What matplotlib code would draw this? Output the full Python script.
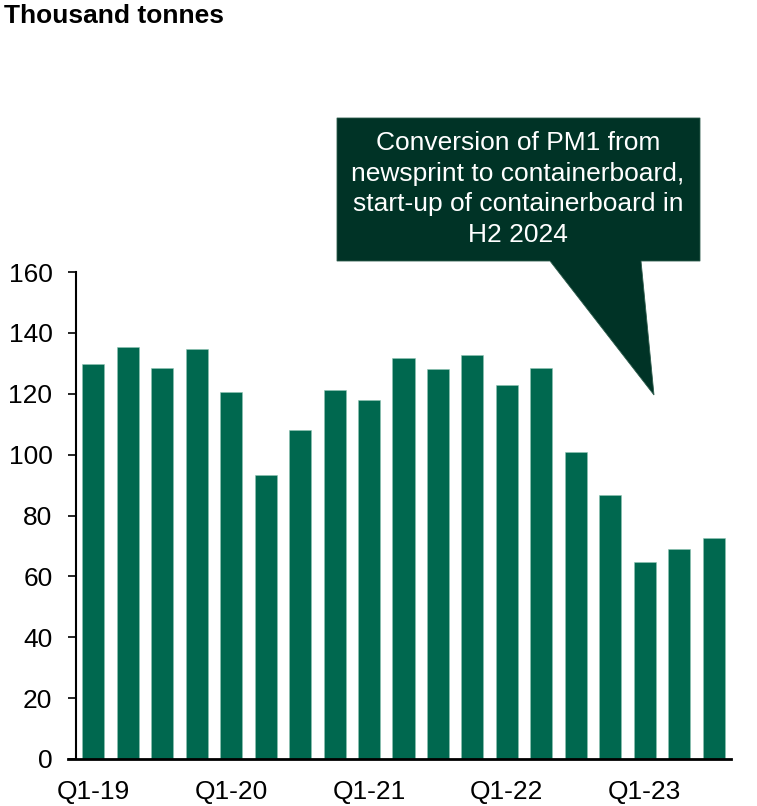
import numpy as np
import matplotlib.pyplot as plt
from matplotlib.patches import Polygon

plt.rcParams['font.family'] = ['Liberation Sans', 'DejaVu Sans']

quarters = ['Q1-19', 'Q2-19', 'Q3-19', 'Q4-19',
            'Q1-20', 'Q2-20', 'Q3-20', 'Q4-20',
            'Q1-21', 'Q2-21', 'Q3-21', 'Q4-21',
            'Q1-22', 'Q2-22', 'Q3-22', 'Q4-22',
            'Q1-23', 'Q2-23', 'Q3-23']
volume = [129.7, 135.5, 128.3, 134.6,
          120.6, 93.2, 108.0, 121.2,
          117.8, 131.7, 128.1, 132.8,
          122.8, 128.3, 101.0, 86.7,
          64.6, 69.0, 72.7]
yticks = [0, 20, 40, 60, 80, 100, 120, 140, 160]
callout = ('Conversion of PM1 from\nnewsprint to containerboard,\n'
           'start-up of containerboard in\nH2 2024')

bar_color = '#00684F'
box_color = '#003326'

W, H = 757, 806
fig = plt.figure(figsize=(W / 100, H / 100), dpi=100)
ax = fig.add_axes([76 / W, 1 - 759 / H, (731 - 76) / W, (759 - 272) / H])

x = np.arange(len(quarters))
ax.bar(x, volume, width=0.64, color=bar_color, edgecolor='#8fc4b4', linewidth=0.4)

ax.set_xlim(-0.5, len(quarters) - 0.5)
ax.set_ylim(0, 160)
ax.set_yticks(yticks)
ax.set_xticks(x[::4])
ax.set_xticklabels(quarters[::4])
ax.tick_params(axis='y', labelsize=19, length=6, width=1.2, direction='out', pad=11)
ax.tick_params(axis='x', labelsize=19, length=0, pad=15)
for s in ['top', 'right']:
    ax.spines[s].set_visible(False)
ax.spines['left'].set_linewidth(1.5)
ax.spines['bottom'].set_linewidth(2)
ax.spines['bottom'].set_bounds(-0.73, len(quarters) - 0.5)

fig.text(4 / W, 1 - 16 / H, 'Thousand tonnes', fontsize=19, fontweight='bold',
         va='center', ha='left')

# speech-bubble callout above the latest quarters
def px(xp, yp):
    return (xp / W, 1 - yp / H)

bubble = [px(337, 118), px(700, 118), px(700, 261), px(641, 261),
          px(654, 395), px(550, 261), px(337, 261)]
fig.patches.append(Polygon(bubble, closed=True, transform=fig.transFigure,
                           facecolor=box_color, edgecolor='#2d5c4c',
                           linewidth=0.6, zorder=3))
fig.text(518 / W, 1 - 189 / H, callout, color='white', fontsize=19,
         ha='center', va='center', linespacing=1.36, zorder=4)

fig.savefig('out.png', dpi=100, facecolor='white')
